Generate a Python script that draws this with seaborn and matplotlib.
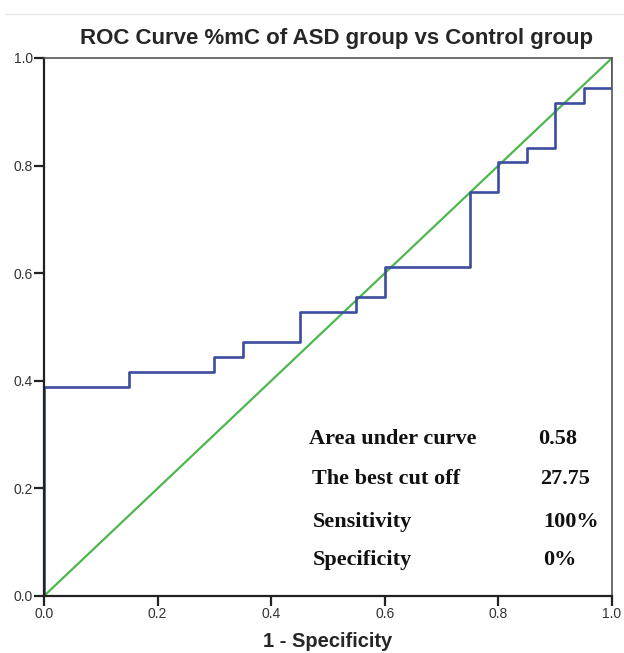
import matplotlib
matplotlib.use("Agg")
import matplotlib.pyplot as plt
from matplotlib.lines import Line2D
import seaborn as sns
import pandas as pd

# ROC coordinates (1 - specificity, sensitivity)
fpr = [0.0, 0.0, 0.15, 0.30, 0.35, 0.45, 0.55, 0.60, 0.75, 0.80, 0.85, 0.90, 0.95, 1.0]
tpr = [0.0, 0.389, 0.417, 0.444, 0.472, 0.528, 0.556, 0.611, 0.750, 0.806, 0.833, 0.917, 0.944, 1.0]
ref_line = [0.0, 1.0]

stat_labels = ["Area under curve", "The best cut off", "Sensitivity", "Specificity"]
stat_values = ["0.58", "27.75", "100%", "0%"]

ticks = [0.0, 0.2, 0.4, 0.6, 0.8, 1.0]
tick_labels = ["0.0", "0.2", "0.4", "0.6", "0.8", "1.0"]

sns.set_theme(style="white")
plt.rcParams["font.family"] = ["Liberation Sans", "DejaVu Sans"]

fig = plt.figure(figsize=(6.24, 6.53), dpi=100)
ax = fig.add_axes([0.0705, 0.0873, 0.9103, 0.8239])

roc = pd.DataFrame({"fpr": fpr, "tpr": tpr})
diag = pd.DataFrame({"x": ref_line, "y": ref_line})

sns.lineplot(data=diag, x="x", y="y", ax=ax, color="#4DB74F", linewidth=1.6,
             estimator=None, sort=False)
sns.lineplot(data=roc, x="fpr", y="tpr", ax=ax, color="#3C4C9E", linewidth=1.9,
             estimator=None, sort=False, drawstyle="steps-post")

ax.set_xlim(0, 1)
ax.set_ylim(0, 1)
ax.set_xticks(ticks)
ax.set_yticks(ticks)
ax.set_xticklabels(tick_labels)
ax.set_yticklabels(tick_labels)
ax.tick_params(axis="both", direction="out", length=7, width=1.6, color="#222222",
               labelsize=10, labelcolor="#333333", pad=1)
ax.tick_params(axis="x", bottom=True)
ax.tick_params(axis="y", left=True)

for side in ["left", "bottom"]:
    ax.spines[side].set_color("#222222")
    ax.spines[side].set_linewidth(1.6)
for side in ["top", "right"]:
    ax.spines[side].set_color("#555555")
    ax.spines[side].set_linewidth(1.2)

ax.set_xlabel("1 - Specificity", fontsize=14.5, fontweight="bold", labelpad=8)
ax.set_ylabel("")
ax.set_title("ROC Curve %mC of ASD group vs Control group", fontsize=16,
             fontweight="bold", pad=10, x=0.515)

# Summary statistics
label_x = [0.4665, 0.472, 0.4736, 0.4736]
value_x = [0.870, 0.873, 0.8785, 0.8785]
row_y = [0.292, 0.218, 0.138, 0.066]
serif = ["Liberation Serif", "DejaVu Serif"]
for lab, val, lx, vx, ry in zip(stat_labels, stat_values, label_x, value_x, row_y):
    ax.text(lx, ry, lab, family=serif, fontsize=16, fontweight="bold",
            va="center", ha="left", color="#111111")
    ax.text(vx, ry, val, family=serif, fontsize=16, fontweight="bold",
            va="center", ha="left", color="#111111")

# thin separator along the top edge
fig.add_artist(Line2D([0.008, 1.0], [0.979, 0.979], transform=fig.transFigure,
                      color="#E6E6E6", linewidth=1.0))

fig.savefig("out.png", dpi=100)
